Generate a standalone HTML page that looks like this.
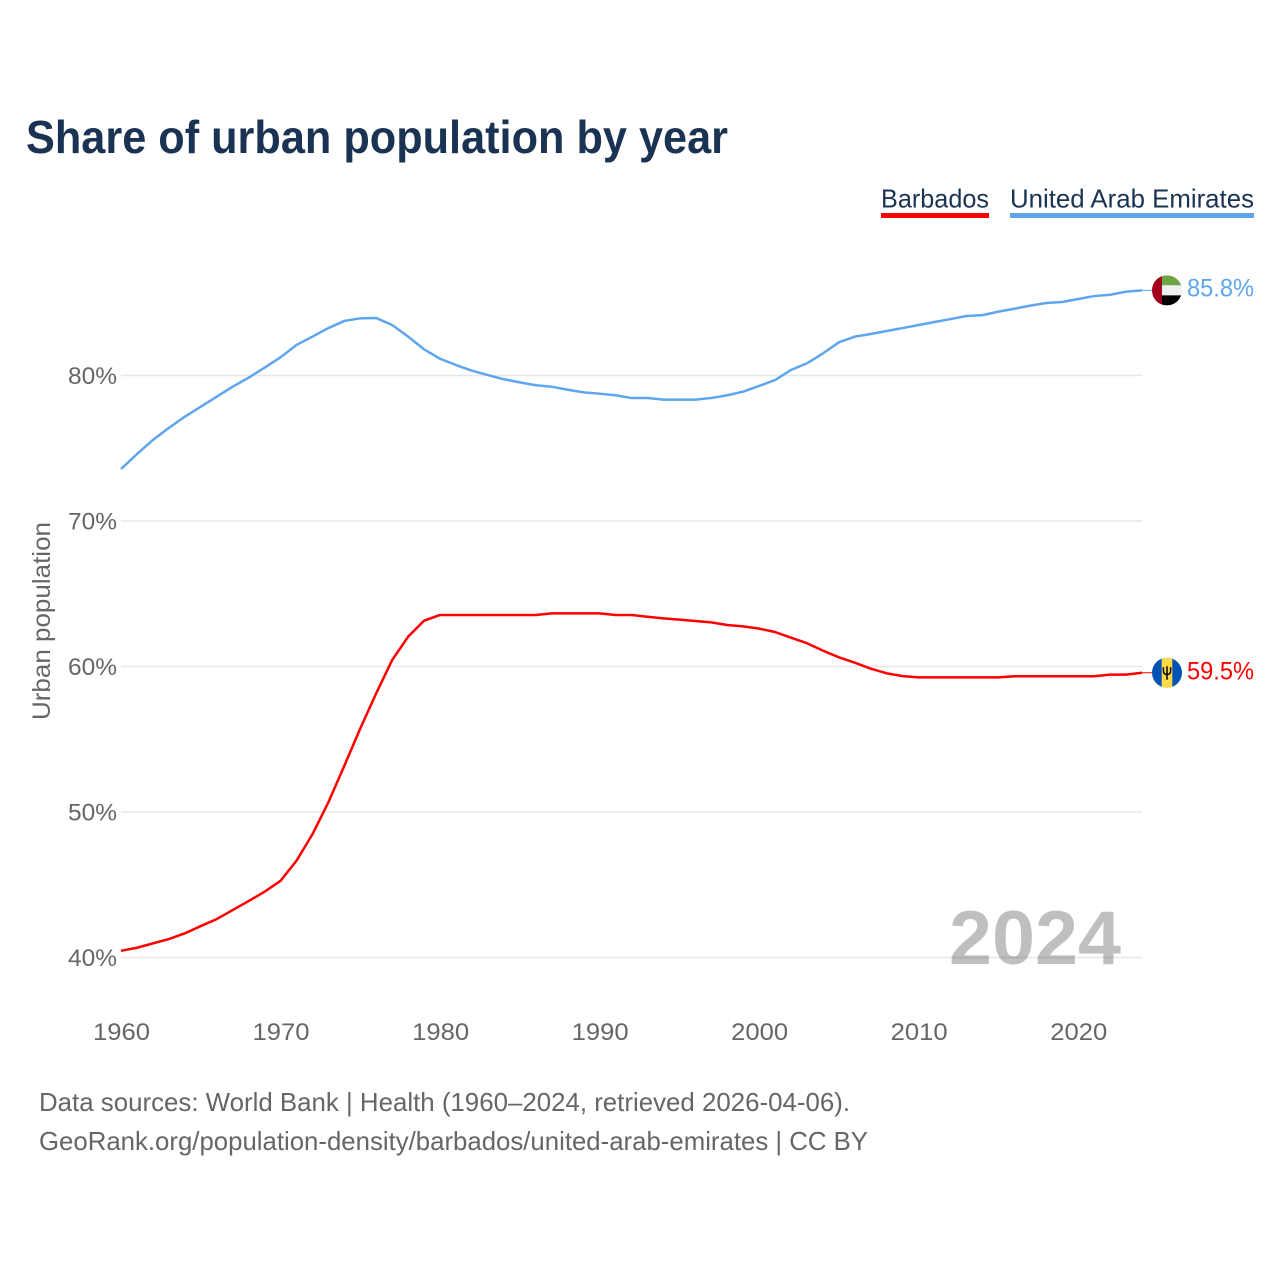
<!DOCTYPE html>
<html lang="en">
<head>
<meta charset="utf-8">
<title>Share of urban population by year</title>
<style>
  html, body { margin: 0; padding: 0; background: #fff; }
  #chart { display: block; width: 1280px; height: 1280px; font-family: "Liberation Sans", sans-serif; }
</style>
</head>
<body>
<svg id="chart" xmlns="http://www.w3.org/2000/svg" width="1280" height="1280" viewBox="0 0 1280 1280">
  <defs>
    <clipPath id="flag-clip"><circle cx="0" cy="0" r="15"></circle></clipPath>
  </defs>
  <rect x="0" y="0" width="1280" height="1280" fill="#ffffff"></rect>

  <text x="26" y="153" font-size="46" font-weight="700" fill="#1a3353" textLength="702" lengthAdjust="spacingAndGlyphs">Share of urban population by year</text>

  <g>
    <g>
      <text x="881" y="207.5" font-size="26" fill="#1a3353" textLength="108" lengthAdjust="spacingAndGlyphs">Barbados</text>
      <rect x="881" y="213" width="108" height="5" fill="#ff0000"></rect>
    </g>
    <g>
      <text x="1010" y="207.5" font-size="26" fill="#1a3353" textLength="244" lengthAdjust="spacingAndGlyphs">United Arab Emirates</text>
      <rect x="1010" y="213" width="244" height="5" fill="#5fa5ee"></rect>
    </g>
  </g>

  <g id="grid"></g>
  <g id="y-axis"></g>
  <g id="x-axis"></g>

  <text x="0" y="0" transform="translate(50 621) rotate(-90)" text-anchor="middle" font-size="25" fill="#666666" textLength="198" lengthAdjust="spacingAndGlyphs">Urban population</text>

  <g id="series"></g>

  <text x="949" y="964" font-size="76" font-weight="700" fill="#000000" fill-opacity="0.25" textLength="172" lengthAdjust="spacingAndGlyphs">2024</text>

  <g id="flag-uae">
    <g clip-path="url(#flag-clip)">
      <rect x="-15" y="-15" width="30" height="10" fill="#6da544"></rect>
      <rect x="-15" y="-5" width="30" height="10" fill="#f0f0f0"></rect>
      <rect x="-15" y="5" width="30" height="10" fill="#000000"></rect>
      <rect x="-15" y="-15" width="10" height="30" fill="#a2001d"></rect>
    </g>
  </g>
  <g id="flag-brb">
    <g clip-path="url(#flag-clip)">
      <rect x="-15" y="-15" width="30" height="30" fill="#0052b4"></rect>
      <rect x="-5.3" y="-15" width="10.6" height="30" fill="#ffda44"></rect>
      <path d="M0 -6.5 V7 M-3.6 -5.5 V-1.6 Q-3.4 1.6 0 1.8 Q3.4 1.6 3.6 -1.6 V-5.5" fill="none" stroke="#000000" stroke-width="1.5"></path>
    </g>
  </g>

  <g id="end-labels"></g>

  <g>
    <text x="39" y="1111" font-size="26" fill="#666666" textLength="811" lengthAdjust="spacingAndGlyphs">Data sources: World Bank | Health (1960–2024, retrieved 2026-04-06).</text>
    <text x="39" y="1150" font-size="26" fill="#666666" textLength="829" lengthAdjust="spacingAndGlyphs">GeoRank.org/population-density/barbados/united-arab-emirates | CC BY</text>
  </g>
</svg>

<script>
const startYear = 1960;
const yearTicks = [1960, 1970, 1980, 1990, 2000, 2010, 2020];
const percentTicks = [40, 50, 60, 70, 80];
const uaeValues = [
  73.57, 74.6, 75.57, 76.4, 77.17, 77.86, 78.54, 79.23, 79.85, 80.54,
  81.25, 82.1, 82.67, 83.26, 83.75, 83.93, 83.95, 83.47, 82.67, 81.8,
  81.15, 80.72, 80.33, 80.03, 79.74, 79.53, 79.33, 79.23, 79.02, 78.84,
  78.75, 78.64, 78.45, 78.45, 78.34, 78.34, 78.34, 78.45, 78.64, 78.89,
  79.28, 79.69, 80.38, 80.84, 81.52, 82.28, 82.67, 82.85, 83.06, 83.26,
  83.47, 83.68, 83.88, 84.09, 84.15, 84.39, 84.59, 84.8, 84.98, 85.05,
  85.26, 85.46, 85.55, 85.76, 85.85
];
const barbadosValues = [
  40.46, 40.67, 40.97, 41.27, 41.66, 42.16, 42.64, 43.26, 43.88, 44.52,
  45.27, 46.65, 48.47, 50.67, 53.18, 55.75, 58.16, 60.45, 62.05, 63.15,
  63.54, 63.54, 63.54, 63.54, 63.54, 63.54, 63.54, 63.65, 63.65, 63.65,
  63.65, 63.54, 63.54, 63.42, 63.31, 63.22, 63.13, 63.03, 62.85, 62.76,
  62.6, 62.37, 61.98, 61.6, 61.09, 60.63, 60.26, 59.85, 59.53, 59.34,
  59.25, 59.25, 59.25, 59.25, 59.25, 59.25, 59.33, 59.33, 59.33, 59.33,
  59.33, 59.33, 59.44, 59.44, 59.57
];
const uaeEndLabel = "85.8%";
const barbadosEndLabel = "59.5%";

const SVG_NS = "http://www.w3.org/2000/svg";
const plotLeft = 121;
const plotRight = 1142;
const lastYear = startYear + uaeValues.length - 1;

function xScale(year) {
  return plotLeft + (year - startYear) * (plotRight - plotLeft) / (lastYear - startYear);
}
function yScale(pct) {
  return 957.5 - (pct - 40) * 14.55;
}
function make(tag, attrs, parent, content) {
  const el = document.createElementNS(SVG_NS, tag);
  Object.keys(attrs).forEach(function (k) { el.setAttribute(k, attrs[k]); });
  if (content !== undefined) el.textContent = content;
  parent.appendChild(el);
  return el;
}

const gridGroup = document.getElementById("grid");
const yAxisGroup = document.getElementById("y-axis");
const xAxisGroup = document.getElementById("x-axis");
const seriesGroup = document.getElementById("series");
const labelGroup = document.getElementById("end-labels");

percentTicks.forEach(function (t) {
  const line = make("line", { x1: plotLeft, x2: plotRight, y1: yScale(t), y2: yScale(t), stroke: "#e8e8e8", "stroke-width": 1.5 }, gridGroup);
  
  
  const label = make("text", { x: 68, y: yScale(t) + 8.5, "font-size": 24, fill: "#666666", textLength: 49, lengthAdjust: "spacingAndGlyphs" }, yAxisGroup, t + "%");
  
  
});

yearTicks.forEach(function (t) {
  const label = make("text", { x: xScale(t) - 28, y: 1040, "font-size": 24, fill: "#666666", textLength: 57, lengthAdjust: "spacingAndGlyphs" }, xAxisGroup, String(t));
  
  
});

function linePoints(values) {
  return values.map(function (v, i) {
    return xScale(startYear + i).toFixed(2) + "," + yScale(v).toFixed(2);
  }).join(" ");
}

const barbadosLine = make("polyline", { points: linePoints(barbadosValues), fill: "none", stroke: "#ff0000", "stroke-width": 2.5, "stroke-linejoin": "round" }, seriesGroup);



const uaeLine = make("polyline", { points: linePoints(uaeValues), fill: "none", stroke: "#5fa5ee", "stroke-width": 2.5, "stroke-linejoin": "round" }, seriesGroup);



const barbadosEndY = yScale(barbadosValues[barbadosValues.length - 1]);
const uaeEndY = yScale(uaeValues[uaeValues.length - 1]);

const barbadosLeader = make("line", { x1: plotRight, x2: plotRight + 10, y1: barbadosEndY, y2: barbadosEndY, stroke: "#ff0000", "stroke-width": 1 }, seriesGroup);



const uaeLeader = make("line", { x1: plotRight, x2: plotRight + 10, y1: uaeEndY, y2: uaeEndY, stroke: "#5fa5ee", "stroke-width": 1 }, seriesGroup);



document.getElementById("flag-uae").setAttribute("transform", "translate(1167 " + uaeEndY.toFixed(2) + ")");
document.getElementById("flag-brb").setAttribute("transform", "translate(1167 " + barbadosEndY.toFixed(2) + ")");

const uaeLabel = make("text", { x: 1187, y: uaeEndY + 6.3, "font-size": 25, fill: "#5fa5ee", textLength: 67, lengthAdjust: "spacingAndGlyphs" }, labelGroup, uaeEndLabel);



const barbadosLabel = make("text", { x: 1187, y: barbadosEndY + 6.7, "font-size": 25, fill: "#ff0000", textLength: 67, lengthAdjust: "spacingAndGlyphs" }, labelGroup, barbadosEndLabel);


</script>
</body>
</html>
